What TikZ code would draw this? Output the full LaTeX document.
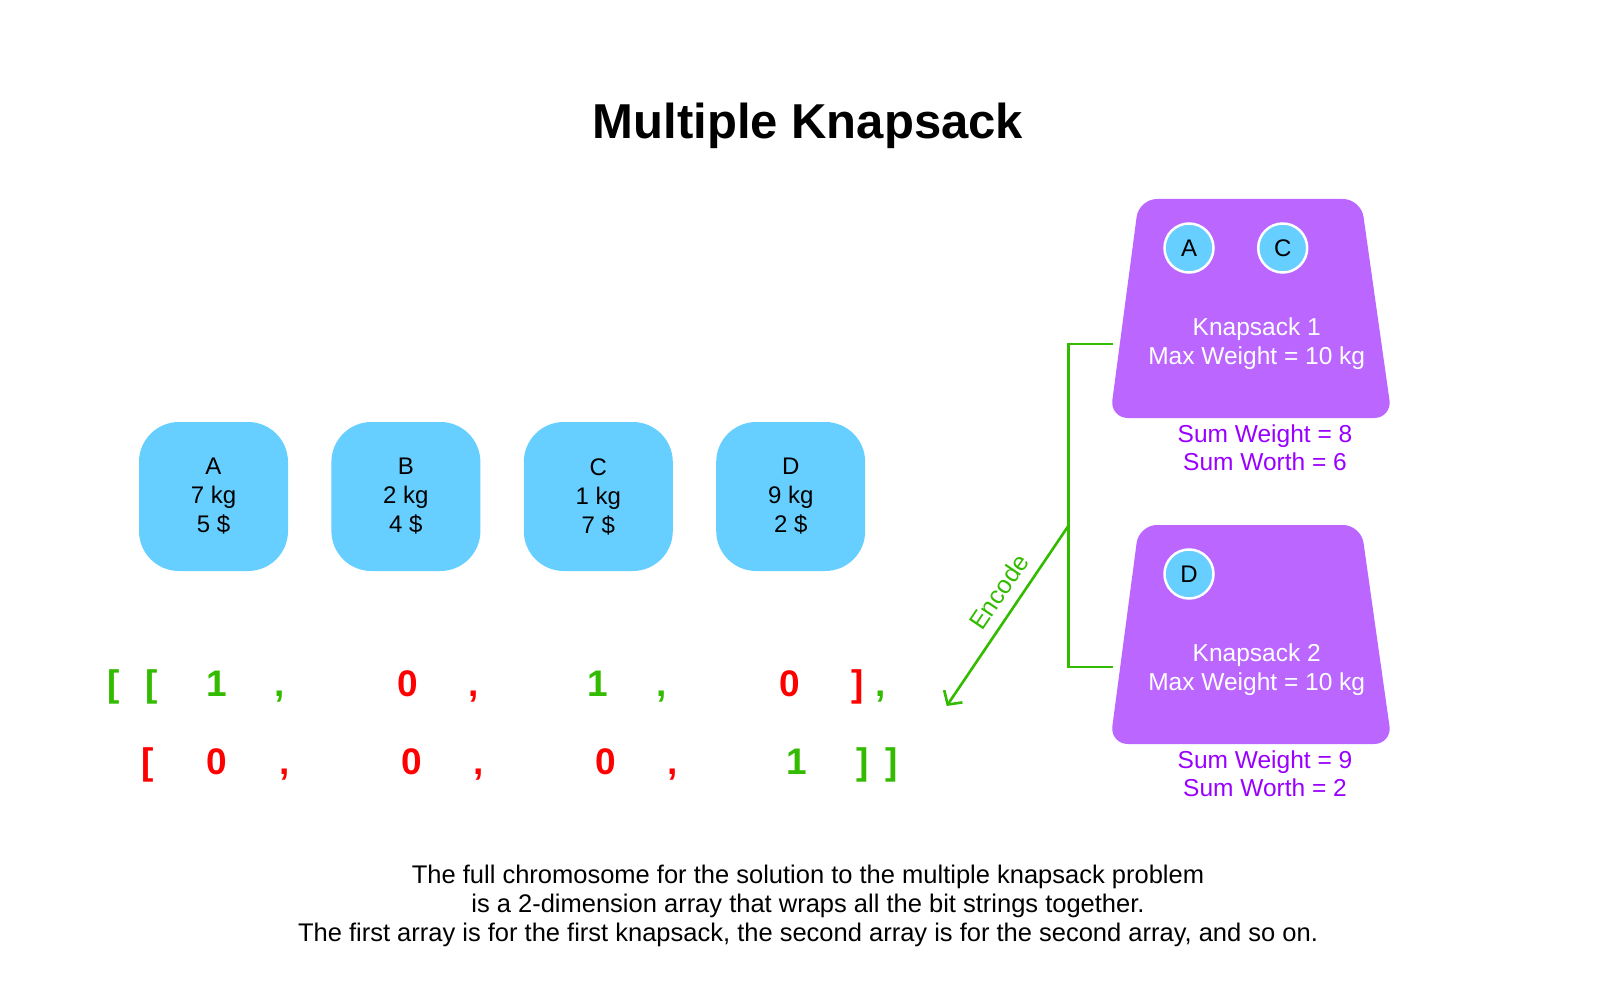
\documentclass[tikz,border=0pt]{standalone}
\usepackage{fontspec}
\setmainfont{Liberation Sans}
\usetikzlibrary{arrows.meta,positioning}
\definecolor{itemblue}{RGB}{102,207,255}
\definecolor{sackpurple}{RGB}{187,102,255}
\definecolor{sumpurple}{RGB}{153,0,255}
\definecolor{bitgreen}{RGB}{51,187,0}
\definecolor{bitred}{RGB}{255,0,0}

\begin{document}
\begin{tikzpicture}[x=1pt, y=-1pt,
    item/.style={fill=itemblue, rounded corners=40pt, minimum size=149pt, inner sep=0pt,
      align=center, font=\fontsize{24}{29}\selectfont},
    sack/.style={fill=sackpurple, rounded corners=18pt},
    ball/.style={circle, fill=itemblue, draw=white, line width=2.5pt, minimum size=49pt,
      inner sep=0pt, font=\fontsize{24}{29}\selectfont},
    sacktext/.style={text=white, align=center, font=\fontsize{24.5}{29}\selectfont},
    sumtext/.style={text=sumpurple, align=center, font=\fontsize{24.5}{27.5}\selectfont},
    bit/.style={anchor=base, inner sep=0pt, font=\fontsize{37}{37}\selectfont\bfseries},
    wire/.style={draw=bitgreen, line width=2.6pt},
    >={Straight Barb[length=10pt,width=22pt]}]
    \useasboundingbox (0,0) rectangle (1618,1000);

    \node[anchor=base, font=\fontsize{49}{49}\selectfont\bfseries] (title) at (808,139) {Multiple Knapsack};

    % items
    \node[item] (itemA) at (213.5,496.5) {A\\7 kg\\5 \$};
    \node[item, right=43pt of itemA] (itemB) {B\\2 kg\\4 \$};
    \node[item, right=43pt of itemB] (itemC) {C\\1 kg\\7 \$};
    \node[item, right=43pt of itemC] (itemD) {D\\9 kg\\2 \$};

    % knapsacks
    \fill[sack] (1110,418) -- (1139,199) -- (1361,199) -- (1392,418) -- cycle;
    \node[ball] (ballA) at (1189,248) {A};
    \node[ball] (ballC) at (1282.7,248) {C};
    \node[sacktext] (cap1) at (1256.7,343.5) {Knapsack 1\\Max Weight = 10 kg};
    \node[sumtext] (sum1) at (1265,447.5) {Sum Weight = 8\\Sum Worth = 6};

    \fill[sack] (1110,744) -- (1139,525) -- (1361,525) -- (1392,744) -- cycle;
    \node[ball] (ballD) at (1189,574) {D};
    \node[sacktext] (cap2) at (1256.7,669.5) {Knapsack 2\\Max Weight = 10 kg};
    \node[sumtext] (sum2) at (1265,773.5) {Sum Weight = 9\\Sum Worth = 2};

    % encode bracket
    \coordinate (join1) at (1113,344);
    \coordinate (join2) at (1113,667);
    \coordinate (fork) at (1068.3,526);
    \coordinate (encodetip) at (946.7,706);
    \draw[wire] (join1) -| (fork) |- (join2);
    \draw[wire, ->] (fork) -- (encodetip)
      node[pos=0.43, sloped, above=7pt, text=bitgreen, font=\fontsize{25}{29}\selectfont] (encode) {Encode};

    % chromosome
    \foreach \x/\t/\c [count=\i] in {113.5/[/bitgreen, 151.7/[/bitgreen, 216.7/1/bitgreen,
        279.7/{,}/bitgreen, 407.6/0/bitred, 473.7/{,}/bitred, 597.5/1/bitgreen,
        661.5/{,}/bitgreen, 789.5/0/bitred, 857.6/]/bitred, 880.3/{,}/bitgreen}
      \node[bit, text=\c] (top\i) at (\x,696) {\t};
    \foreach \x/\t/\c [count=\i] in {147.6/[/bitred, 216.7/0/bitred, 284.8/{,}/bitred,
        411.8/0/bitred, 478.8/{,}/bitred, 605.8/0/bitred, 672.9/{,}/bitred,
        796.7/1/bitgreen, 862.8/]/bitgreen, 891.6/]/bitgreen}
      \node[bit, text=\c] (bot\i) at (\x,774.5) {\t};

    \node[align=center, font=\fontsize{25.5}{29}\selectfont] (caption) at (808,906)
      {The full chromosome for the solution to the multiple knapsack problem\\
       is a 2-dimension array that wraps all the bit strings together.\\
       The first array is for the first knapsack, the second array is for the second array, and so on.};
\end{tikzpicture}
\end{document}
